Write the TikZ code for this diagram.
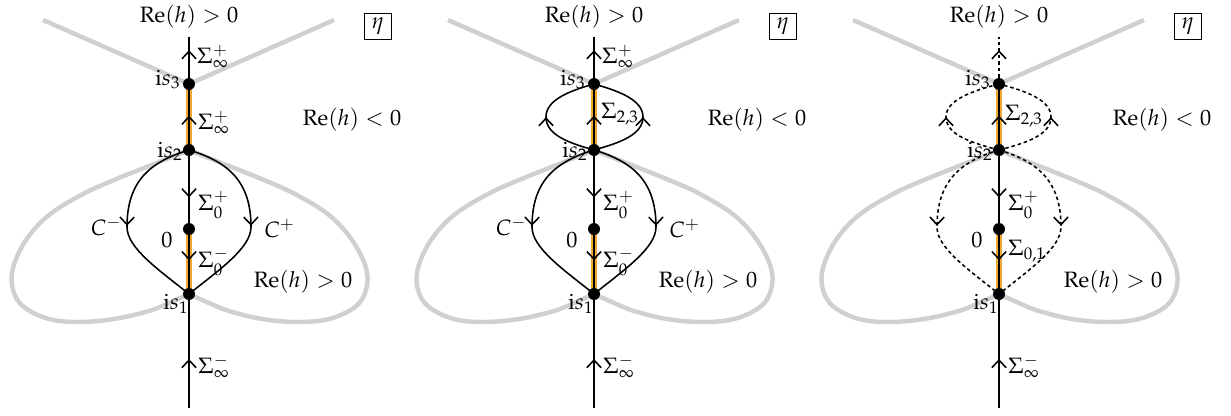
\documentclass[tikz,border=0pt]{standalone}
\usepackage{mathpazo}
\usetikzlibrary{arrows.meta,decorations.markings}
\definecolor{lgray}{RGB}{208,208,210}
\definecolor{orng}{RGB}{242,168,48}
\tikzset{
 graycurve/.style={draw=lgray, line width=2pt},
 blk/.style={draw=black, line width=0.7pt},
 dsh/.style={blk, dash pattern=on 1.6pt off 1.3pt},
 orangeband/.style={draw=orng, line width=2.3pt},
 dot/.style={circle, fill=black, inner sep=0pt, minimum size=5.4pt},
 arr/.style={postaction={decorate}, decoration={markings, mark=at position #1 with {\arrow{Straight Barb[length=3.4pt,width=6.4pt]}}}},
 lbl/.style={inner sep=0pt},
 etabox/.style={draw, line width=0.4pt, minimum width=12.2pt, minimum height=11.7pt, inner sep=0pt},
}
\newcommand\drawbase[1]{%
 \draw[graycurve] (-146,20) -- (0,84) -- (145,20);
 \draw[graycurve] plot[smooth,tension=0.6] coordinates {(0,150) (-35,164) (-75,180) (-106,194) (-140,215) (-163,240) (-176,268) (-176,290) (-165,307) (-140,319) (-110,322) (-75,319) (-40,311) (-20,303) (0,294)};
 \draw[graycurve] plot[smooth,tension=0.6] coordinates {(0,150) (35,164) (75,180) (106,194) (140,215) (163,240) (177,268) (177,290) (166,307) (140,319) (108,322) (73,319) (40,311) (20,303) (0,294)};
 \coordinate (#1t) at (0,37);
 \coordinate (#1s3) at (0,84);
 \coordinate (#1s2) at (0,150);
 \coordinate (#1z) at (0,229);
 \coordinate (#1s1) at (0,294);
 \coordinate (#1b) at (0,408);
 \node[lbl] (#1retop) at (0,17) {$\mathrm{Re}(h)>0$};
 \node[etabox] (#1eta) at (189,26) {$\eta$};
 \node[lbl] (#1reneg) at (163,120) {$\mathrm{Re}(h)<0$};
 \node[lbl] (#1repos) at (114,282) {$\mathrm{Re}(h)>0$};
 \node[lbl, anchor=base east] (#1l3) at (-8,85) {$\mathrm{i}s_3$};
 \node[lbl, anchor=base east] (#1l2) at (-6,157) {$\mathrm{i}s_2$};
 \node[lbl, anchor=base east] (#1l1) at (0,309) {$\mathrm{i}s_1$};
 \node[lbl, anchor=east] (#1lz) at (-16,240) {$0$};
 \node[lbl, anchor=west] (#1lzp) at (9,205) {$\Sigma_0^+$};
 \node[lbl, anchor=west] (#1lib) at (9,367) {$\Sigma_\infty^-$};
}
\newcommand\drawdots[1]{\foreach \n in {s3,s2,z,s1} \node[dot] at (#1\n) {};}
\newcommand\cleft[2]{\draw[#2, arr=0.53] (#1s2) .. controls (-40,162) and (-62,182) .. (-62,227) .. controls (-62,248) and (-30,270) .. (#1s1);}
\newcommand\cright[2]{\draw[#2, arr=0.53] (#1s2) .. controls (40,162) and (62,182) .. (62,227) .. controls (62,248) and (30,270) .. (#1s1);}
\begin{document}
\begin{tikzpicture}[x=0.45pt,y=-0.45pt]
\useasboundingbox (0,0) rectangle (1231,416);
% ---------- panel 1
\begin{scope}[shift={(189,0)}]
\drawbase{a}
\draw[orangeband] (as2) -- (as3);
\draw[orangeband] (az) -- (as1);
\draw[blk, arr=0.72] (as3) -- (at);
\draw[blk, arr=0.52] (as2) -- (as3);
\draw[blk, arr=0.6] (as2) -- (az);
\draw[blk, arr=0.48] (az) -- (as1);
\draw[blk, arr=0.43] (ab) -- (as1);
\cleft{a}{blk}
\cright{a}{blk}
\drawdots{a}
\node[lbl, anchor=west] at (8,57) {$\Sigma_\infty^+$};
\node[lbl, anchor=west] at (9,123) {$\Sigma_\infty^+$};
\node[lbl, anchor=west] at (9,262) {$\Sigma_0^-$};
\node[lbl, anchor=east] at (-67,227) {$C^-$};
\node[lbl, anchor=west] at (75,229) {$C^+$};
\end{scope}
% ---------- panel 2
\begin{scope}[shift={(594,0)}]
\drawbase{b}
\draw[orangeband] (bs2) -- (bs3);
\draw[orangeband] (bz) -- (bs1);
\draw[blk, arr=0.72] (bs3) -- (bt);
\draw[blk, arr=0.52] (bs2) -- (bs3);
\draw[blk, arr=0.6] (bs2) -- (bz);
\draw[blk, arr=0.48] (bz) -- (bs1);
\draw[blk, arr=0.43] (bb) -- (bs1);
\cleft{b}{blk}
\cright{b}{blk}
\draw[blk, arr=0.5] (bs2) .. controls (-25,143) and (-48,135) .. (-48,117) .. controls (-48,100) and (-25,91) .. (bs3);
\draw[blk, arr=0.5] (bs2) .. controls (25,143) and (49,135) .. (49,117) .. controls (49,100) and (25,91) .. (bs3);
\drawdots{b}
\node[lbl, anchor=west] at (8,57) {$\Sigma_\infty^+$};
\node[lbl, anchor=west] at (7,114) {$\Sigma_{2,3}$};
\node[lbl, anchor=west] at (9,262) {$\Sigma_0^-$};
\node[lbl, anchor=east] at (-67,227) {$C^-$};
\node[lbl, anchor=west] at (75,229) {$C^+$};
\end{scope}
% ---------- panel 3
\begin{scope}[shift={(999,0)}]
\drawbase{c}
\draw[orangeband] (cs2) -- (cs3);
\draw[orangeband] (cz) -- (cs1);
\draw[dsh, arr=0.72] (cs3) -- (ct);
\draw[blk, arr=0.52] (cs2) -- (cs3);
\draw[blk, arr=0.6] (cs2) -- (cz);
\draw[blk, arr=0.48] (cz) -- (cs1);
\draw[blk, arr=0.43] (cb) -- (cs1);
\cleft{c}{dsh}
\cright{c}{dsh}
\draw[dsh, arr=0.5] (cs2) .. controls (-27,143) and (-53,135) .. (-53,117) .. controls (-53,100) and (-27,91) .. (cs3);
\draw[dsh, arr=0.5] (cs2) .. controls (27,143) and (52,135) .. (52,117) .. controls (52,100) and (27,91) .. (cs3);
\drawdots{c}
\node[lbl, anchor=west] at (6,116) {$\Sigma_{2,3}$};
\node[lbl, anchor=west] at (9,251) {$\Sigma_{0,1}$};
\end{scope}
\end{tikzpicture}
\end{document}
